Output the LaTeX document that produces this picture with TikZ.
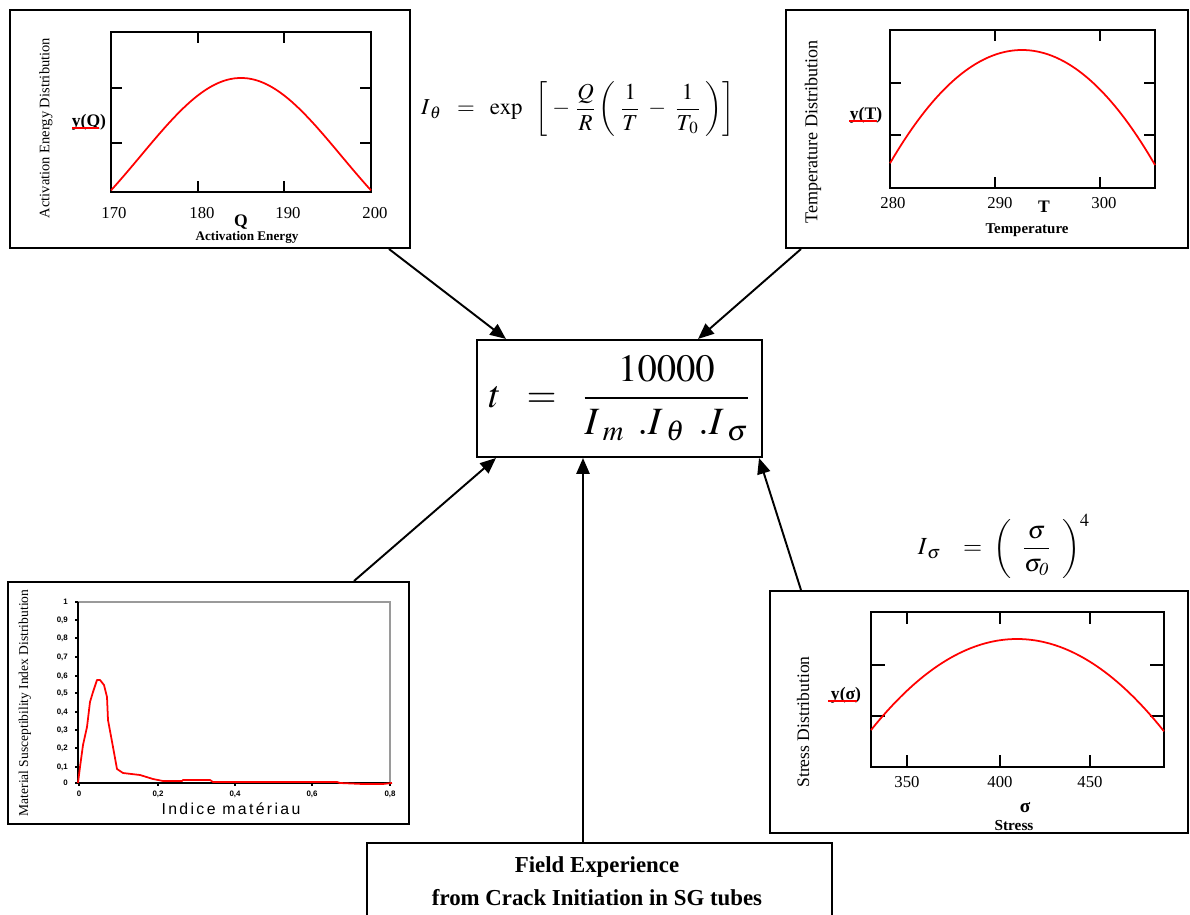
\documentclass[tikz,border=0pt]{standalone}
\usepackage{amsmath}
\usepackage{mathptmx}
\usepackage{fontspec}
\setmainfont{Liberation Serif}
\newfontfamily\plotsans[LetterSpace=15]{Liberation Sans}
\newfontfamily\plotnum{Liberation Sans}
\usepackage{tikz}
\usetikzlibrary{arrows.meta}
\definecolor{rosso}{HTML}{FF0000}
\definecolor{grigio}{HTML}{9A9A9A}

\begin{document}
\begin{tikzpicture}[x=0.02cm, y=-0.02cm,
    riquadro/.style={draw, line width=1.2pt, inner sep=0pt},
    cornice/.style={line width=1.1pt},
    curva/.style={draw=rosso, line width=1pt, line join=round},
    freccia/.style={-{Triangle[length=9pt,width=7.5pt]}, line width=1.1pt},
    numero/.style={font=\fontsize{9.5}{11}\selectfont},
    titolo/.style={font=\fontsize{#1}{11}\selectfont\bfseries},
    etichetta/.style={rotate=90, font=\fontsize{#1}{11}\selectfont}]
        \path[fill=white] (0,0) rectangle (1190,915);
        \useasboundingbox (0,0) rectangle (1190,915);
        % Riquadri
        \node[riquadro, minimum width=8cm, minimum height=4.76cm] (actbox) at (210,129) {};
        \node[riquadro, minimum width=8.04cm, minimum height=4.76cm] (tempbox) at (987,129) {};
        \node[riquadro, minimum width=8.02cm, minimum height=4.84cm] (matbox) at (208.5,703) {};
        \node[riquadro, minimum width=8.36cm, minimum height=4.84cm] (strbox) at (979,712) {};
        \node[riquadro, minimum width=5.7cm, minimum height=2.34cm] (tbox) at (619.5,398.5)
            {\fontsize{22}{26}\selectfont $t\;\;=\;\;\dfrac{\;10000\;}{I_{\;m}\;\,.I_{\;\theta}\;\,.I_{\;\sigma}}$};
        \node[minimum width=9.3cm, minimum height=1.44cm, inner sep=0pt] (fieldbox) at (599.5,879) {};
        \draw[line width=1.2pt] (fieldbox.south west) |- (fieldbox.north east) -- (fieldbox.south east);
        \node[align=center, font=\fontsize{13}{19}\selectfont\bfseries] (fieldtxt) at (597,881)
            {Field Experience\\from Crack Initiation in SG tubes};
        % Formule
        \node[font=\fontsize{13}{15}\selectfont] (itheta) at (578,109)
            {$I_{\,\theta}\;\;=\;\;\exp\;\;\left[\;-\;\dfrac{Q}{R}\left(\;\dfrac{1}{T}\;-\;\dfrac{1}{T_{\,0}}\;\right)\right]$};
        \node[font=\fontsize{14}{16}\selectfont] (isigma) at (1004,546)
            {$I_{\,\sigma}\;\;\;=\;\left(\;\;\dfrac{\sigma}{\sigma_{\mathit{0}}}\;\;\right)^{4}$};
        % Energia di attivazione
        \draw[cornice] (111,32) rectangle (371,192);
        \foreach \x in {198,284} {
            \draw[cornice] (\x,32) -- ++(0,11);
            \draw[cornice] (\x,192) -- ++(0,-11);
        }
        \foreach \y in {88,143} {
            \draw[cornice] (111,\y) -- ++(11,0);
            \draw[cornice] (371,\y) -- ++(-11,0);
        }
        \draw[curva] plot[domain=111:371, samples=60, smooth] (\x,{192-(197*exp(-((\x-241)/100)*((\x-241)/100)/2)-83)});
        \foreach \x/\v in {114/170, 202/180, 288/190, 375/200}
            \node[numero] (actx\v) at (\x,213) {\v};
        \node[titolo=10] (actq) at (241,222) {Q};
        \node[titolo=7.5] (actname) at (247,237) {Activation Energy};
        \node[titolo=10] (acty) at (89,122) {y(Q)};
        \draw[rosso, line width=1pt] (72,128) -- (99,128);
        \node[etichetta=8.25] (actylab) at (46,128) {Activation Energy Distribution};
        % Temperatura
        \draw[cornice] (890,30) rectangle (1155,188);
        \foreach \x in {995,1100} {
            \draw[cornice] (\x,30) -- ++(0,11);
            \draw[cornice] (\x,188) -- ++(0,-11);
        }
        \foreach \y in {83,135} {
            \draw[cornice] (890,\y) -- ++(11,0);
            \draw[cornice] (1155,\y) -- ++(-11,0);
        }
        \draw[curva] plot[domain=890:1155, samples=60, smooth] (\x,{188-(138-0.0065*(\x-1022)*(\x-1022))});
        \foreach \x/\v in {893/280, 1000/290, 1104/300}
            \node[numero] (tempx\v) at (\x,203) {\v};
        \node[titolo=10] (tempt) at (1044,207) {T};
        \node[titolo=8.5] (tempname) at (1027,230) {Temperature};
        \node[titolo=10] (tempy) at (866,115) {y(T)};
        \draw[rosso, line width=1pt] (849,121) -- (877,121);
        \node[etichetta=10.3] (tempylab) at (813,132) {Temperature Distribution};
        % Sforzo
        \draw[cornice] (871,612) rectangle (1164,767);
        \foreach \x in {907,1000,1090} {
            \draw[cornice] (\x,612) -- ++(0,12);
            \draw[cornice] (\x,767) -- ++(0,-12);
        }
        \foreach \y in {665,716} {
            \draw[cornice] (871,\y) -- ++(14,0);
            \draw[cornice] (1164,\y) -- ++(-14,0);
        }
        \draw[curva] plot[domain=871:1164, samples=60, smooth] (\x,{767-(128-0.00427*(\x-1017)*(\x-1017))});
        \foreach \x/\v in {907/350, 1000/400, 1090/450}
            \node[numero] (strx\v) at (\x,782) {\v};
        \node[titolo=11] (strs) at (1025,808) {σ};
        \node[titolo=8.7] (strname) at (1014,826) {Stress};
        \node[titolo=10] (stry) at (846,695) {y(σ)};
        \draw[rosso, line width=1pt] (828,701) -- (857,701);
        \node[etichetta=10] (strylab) at (803,722) {Stress Distribution};
        % Indice materiale
        \draw[grigio, line width=0.8pt] (78,602) -- (390,602) -- (390,783);
        \draw[line width=1pt] (78,602) -- (78,783) -- (390,783);
        \foreach \y/\v in {602/1, 620/{0,9}, 638/{0,8}, 657/{0,7}, 676/{0,6}, 693/{0,5},
                           712/{0,4}, 730/{0,3}, 748/{0,2}, 767/{0,1}, 783/0} {
            \draw[line width=0.8pt] (78,\y) -- ++(-3,0);
            \node[font=\fontsize{4.5}{5}\plotnum\bfseries, anchor=east] (maty\y) at (74,\y) {\v};
        }
        \foreach \x/\v in {79/0, 158/{0,2}, 235/{0,4}, 312/{0,6}, 390/{0,8}} {
            \draw[line width=0.8pt] (\x,783) -- ++(0,3);
            \node[font=\fontsize{4.5}{5}\plotnum\bfseries] (matx\x) at (\x,794) {\v};
        }
        \draw[curva] (78,783) -- (80,767) -- (83,745) -- (87,727) -- (90,702) -- (93,692)
            -- (97,680) -- (100,680) -- (104,685) -- (107,697) -- (108,720) -- (113,747)
            -- (117,769) -- (123,773) -- (140,775) -- (153,779) -- (163,781) -- (182,781)
            -- (183,780) -- (210,780) -- (213,782) -- (337,782) -- (340,783) -- (363,784)
            -- (383,784) -- (392,783);
        \node[font=\fontsize{9}{11}\plotsans] (matname) at (231,809) {Indice matériau};
        \node[etichetta=7.7] (matylab) at (25,703) {Material Susceptibility Index Distribution};
        % Frecce
        \draw[freccia] ([xshift=-0.44cm]actbox.south east) -- ([xshift=0.6cm]tbox.north west);
        \draw[freccia] ([xshift=0.32cm]tempbox.south west) -- ([xshift=-1.3cm]tbox.north east);
        \draw[freccia] ([xshift=-1.12cm]matbox.north east) -- ([xshift=0.4cm]tbox.south west);
        \coordinate (fieldtop) at ([xshift=-0.33cm]fieldbox.north);
        \draw[freccia] (fieldtop) -- (fieldtop |- tbox.south);
        \draw[freccia] ([xshift=0.64cm]strbox.north west) -- ([xshift=-0.08cm]tbox.south east);
    \end{tikzpicture}
\end{document}
